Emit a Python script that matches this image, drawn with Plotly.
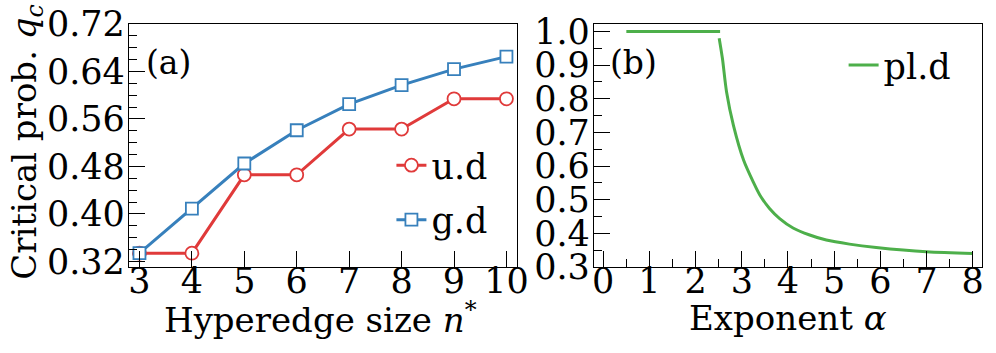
import plotly.graph_objects as go

# panel (a): critical probability vs hyperedge size
n_sizes = [3, 4, 5, 6, 7, 8, 9, 10]
qc_ud = [0.334, 0.334, 0.466, 0.466, 0.543, 0.543, 0.594, 0.594]
qc_gd = [0.334, 0.409, 0.485, 0.541, 0.585, 0.617, 0.644, 0.665]

# panel (b): critical probability vs power-law exponent
alpha_flat = [0.5, 1.0, 1.5, 2.0, 2.53]
qc_flat = [1.0, 1.0, 1.0, 1.0, 1.0]
alpha_pl = [2.51, 2.58, 2.67, 2.82, 3.04, 3.25, 3.39, 3.60, 3.82, 4.11, 4.47, 4.83, 5.33, 5.91, 7.0, 8.0]
qc_pl = [0.98, 0.92, 0.82, 0.72, 0.617, 0.552, 0.514, 0.474, 0.444, 0.416, 0.395, 0.38, 0.368, 0.358, 0.345, 0.34]

RED = "rgb(224,58,58)"
BLUE = "rgb(55,128,188)"
GREEN = "rgb(77,175,74)"
FONT = "DejaVu Serif"

fig = go.Figure()

fig.add_trace(go.Scatter(
    x=n_sizes, y=qc_ud, name="u.d", mode="lines+markers",
    line=dict(color=RED, width=3),
    marker=dict(symbol="circle", size=13, color="white", line=dict(color=RED, width=1.8)),
    legendgroup="ud", legend="legend", xaxis="x", yaxis="y",
))
fig.add_trace(go.Scatter(
    x=n_sizes, y=qc_gd, name="g.d", mode="lines+markers",
    line=dict(color=BLUE, width=3),
    marker=dict(symbol="square", size=12, color="white", line=dict(color=BLUE, width=1.8)),
    legendgroup="gd", legend="legend", xaxis="x", yaxis="y",
))

fig.add_trace(go.Scatter(
    x=alpha_flat, y=qc_flat, mode="lines", showlegend=False,
    line=dict(color=GREEN, width=3), xaxis="x2", yaxis="y2",
))
fig.add_trace(go.Scatter(
    x=alpha_pl, y=qc_pl, name="pl.d", mode="lines",
    line=dict(color=GREEN, width=3, shape="spline", smoothing=0.8),
    legend="legend2", xaxis="x2", yaxis="y2",
))

axis_common = dict(
    showline=True, linecolor="black", linewidth=1.3, mirror=True,
    ticks="inside", ticklen=16, tickwidth=1.3, tickcolor="black",
    showgrid=False, zeroline=False, automargin=False,
    tickfont=dict(family=FONT, size=35, color="black"),
)
minor_common = dict(ticks="inside", ticklen=8, tickwidth=1.3, tickcolor="black")
title_font = dict(family=FONT, size=34, color="black")

fig.update_layout(
    width=996, height=353,
    margin=dict(l=0, r=0, t=0, b=0),
    paper_bgcolor="white", plot_bgcolor="white",
    font=dict(family=FONT, size=34, color="black"),
    xaxis=dict(
        domain=[0.1295, 0.519], range=[2.8, 10.2], tickvals=n_sizes,
        ticklabelstandoff=-17,
        **axis_common,
    ),
    yaxis=dict(
        domain=[0.2436, 0.932], range=[0.3107, 0.72],
        tick0=0.32, dtick=0.08, tickformat=".2f", ticklabelstandoff=-4,
        minor=dict(dtick=0.02, tick0=0.32, **minor_common),
        **axis_common,
    ),
    xaxis2=dict(
        domain=[0.5964, 0.9859], range=[-0.2, 8.2], tick0=0, dtick=1, anchor="y2",
        ticklabelstandoff=-17,
        minor=dict(dtick=0.5, **minor_common),
        **axis_common,
    ),
    yaxis2=dict(
        domain=[0.2436, 0.932], range=[0.3, 1.022], tick0=0.3, dtick=0.1,
        tickformat=".1f", anchor="x2", ticklabelstandoff=-4,
        minor=dict(dtick=0.05, tick0=0.3, **minor_common),
        **axis_common,
    ),
    legend=dict(
        x=0.393, y=0.615, xanchor="left", yanchor="top",
        bgcolor="rgba(0,0,0,0)", tracegroupgap=6,
        font=dict(family=FONT, size=35),
    ),
    legend2=dict(
        x=0.847, y=0.899, xanchor="left", yanchor="top",
        bgcolor="rgba(0,0,0,0)",
        font=dict(family=FONT, size=35),
    ),
    annotations=[
        # axis titles
        dict(text="Critical prob. <i>q<sub>c</sub></i>", xref="paper", yref="paper",
             x=0.027, y=0.598, textangle=-90, xanchor="center", yanchor="middle",
             showarrow=False, font=title_font),
        dict(text="Hyperedge size <i>n</i><sup>*</sup>", xref="paper", yref="paper",
             x=0.322, y=0.099, xanchor="center", yanchor="middle",
             showarrow=False, font=title_font),
        dict(text="Exponent <i>α</i>", xref="paper", yref="paper",
             x=0.791, y=0.099, xanchor="center", yanchor="middle",
             showarrow=False, font=title_font),
        # panel labels
        dict(text="(a)", xref="x domain", yref="y domain", x=0.04, y=0.84,
             xanchor="left", yanchor="middle", showarrow=False,
             font=dict(family=FONT, size=33)),
        dict(text="(b)", xref="x2 domain", yref="y2 domain", x=0.037, y=0.84,
             xanchor="left", yanchor="middle", showarrow=False,
             font=dict(family=FONT, size=33)),
    ],
)

# drop the browser's default page margin so the figure sits at the window corner
fig.write_html("out.html", config={"displayModeBar": False},
               post_script="document.body.style.margin='0';")
